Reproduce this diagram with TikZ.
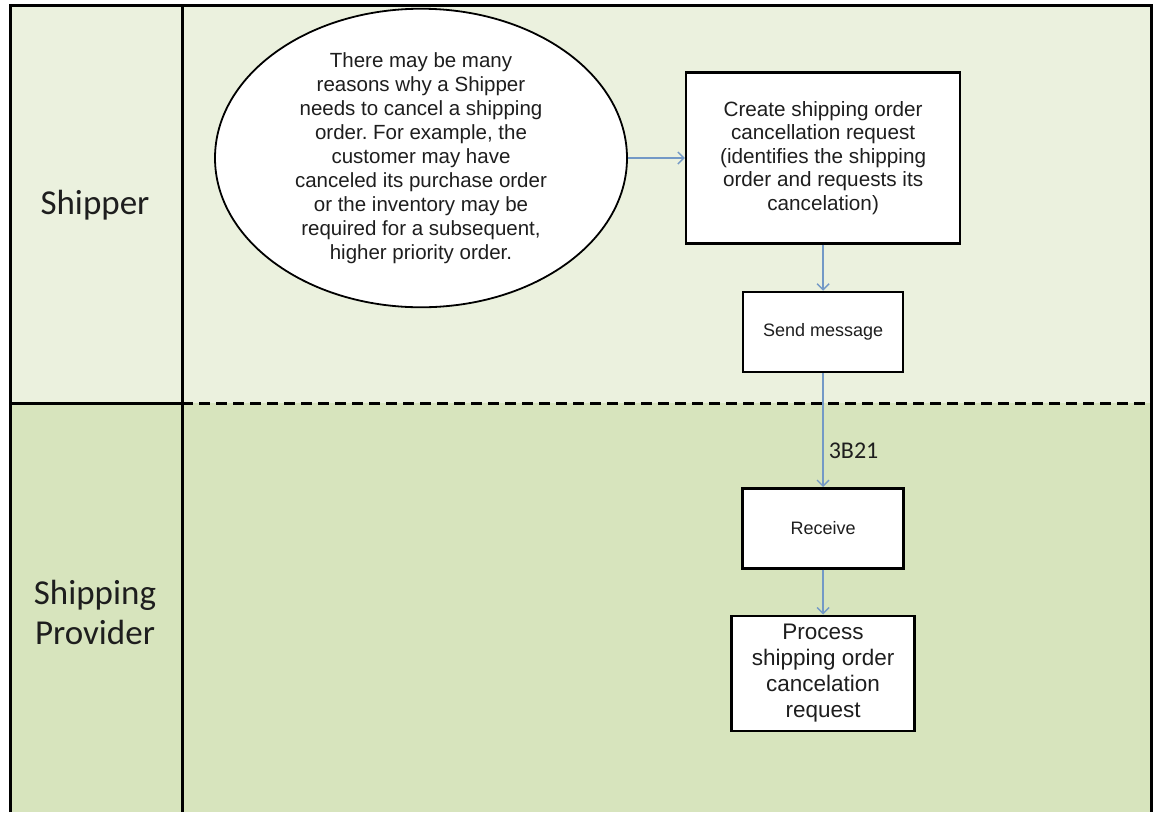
\documentclass[tikz,border=0pt]{standalone}
\usepackage{fontspec}
\setmainfont{Liberation Sans}
\newfontfamily\lanefont{Carlito}
\usepackage{tikz}
\usetikzlibrary{arrows.meta,positioning,shapes.geometric}
\definecolor{shipperlane}{HTML}{EBF1DE}
\definecolor{providerlane}{HTML}{D7E4BD}
\definecolor{flowblue}{HTML}{7399C6}
\definecolor{ink}{HTML}{1E1E1E}
\frenchspacing
\tikzset{
  task/.style={
    rectangle,
    draw=black,
    line width=2.4pt,
    fill=white,
    align=center,
    inner sep=2pt,
    text=ink
  },
  note/.style={
    ellipse,
    draw=black,
    line width=1.8pt,
    fill=white,
    align=center,
    minimum width=412pt,
    minimum height=260pt,
    inner sep=0pt,
    text=ink,
    font=\fontsize{20.5pt}{24pt}\selectfont
  },
  lane label/.style={
    font=\lanefont\fontsize{35pt}{40pt}\selectfont,
    text=ink,
    align=center
  },
  lane rule/.style={draw=black, line width=3pt},
  flow/.style={
    -{Straight Barb[length=6pt,width=12pt]},
    draw=flowblue,
    line width=1.4pt
  }
}

\begin{document}
\begin{tikzpicture}[x=1pt, y=-1pt]
\useasboundingbox (0,0) rectangle (1153,812);

% ---- Swimlanes ----
\fill[shipperlane] (10,5) rectangle (1151,403);
\fill[providerlane] (10,403) rectangle (1151,812);
\draw[lane rule] (10,812) -- (10,5) -- (1151,5) -- (1151,812);
\draw[lane rule] (182,5) -- (182,812);
\draw[lane rule] (10,403) -- (182,403);
\draw[lane rule, dash pattern=on 11pt off 6pt] (182,403) -- (1151,403);

\node[lane label] (shipper) at (95,205) {Shipper};
\node[lane label] (provider) at (95,612) {Shipping\\Provider};

% ---- Shipper lane ----
\node[note] (reason) at (421,158) {
  There may be many\\
  reasons why a Shipper\\
  needs to cancel a shipping\\
  order. For example, the\\
  customer may have\\
  canceled its purchase order\\
  or the inventory may be\\
  required for a subsequent,\\
  higher priority order.
};
\node[task, minimum width=274pt, minimum height=171pt,
  font=\fontsize{20.7pt}{23.5pt}\selectfont, right=57pt of reason] (create) {
  Create shipping order\\
  cancellation request\\
  (identifies the shipping\\
  order and requests its\\
  cancelation)
};
\node[task, minimum width=160pt, minimum height=80pt,
  font=\fontsize{18pt}{21pt}\selectfont, below=46pt of create] (send) {Send message};

% ---- Shipping Provider lane ----
\node[task, minimum width=161pt, minimum height=80pt,
  font=\fontsize{18pt}{21pt}\selectfont, below=114pt of send] (receive) {Receive};
\node[task, minimum width=183pt, minimum height=115pt,
  font=\fontsize{22.5pt}{26pt}\selectfont, below=45pt of receive] (process) {
  Process\\
  shipping order\\
  cancelation\\
  request
};

% ---- Flow ----
\draw[flow] (reason.east) -- (create.west);
\draw[flow] (create) -- (send);
\draw[flow] (send) -- node[pos=0.68, right, inner sep=5pt, text=ink,
  font=\lanefont\fontsize{24pt}{28pt}\selectfont] (msgid) {3B21} (receive);
\draw[flow] (receive) -- (process);

\end{tikzpicture}
\end{document}
